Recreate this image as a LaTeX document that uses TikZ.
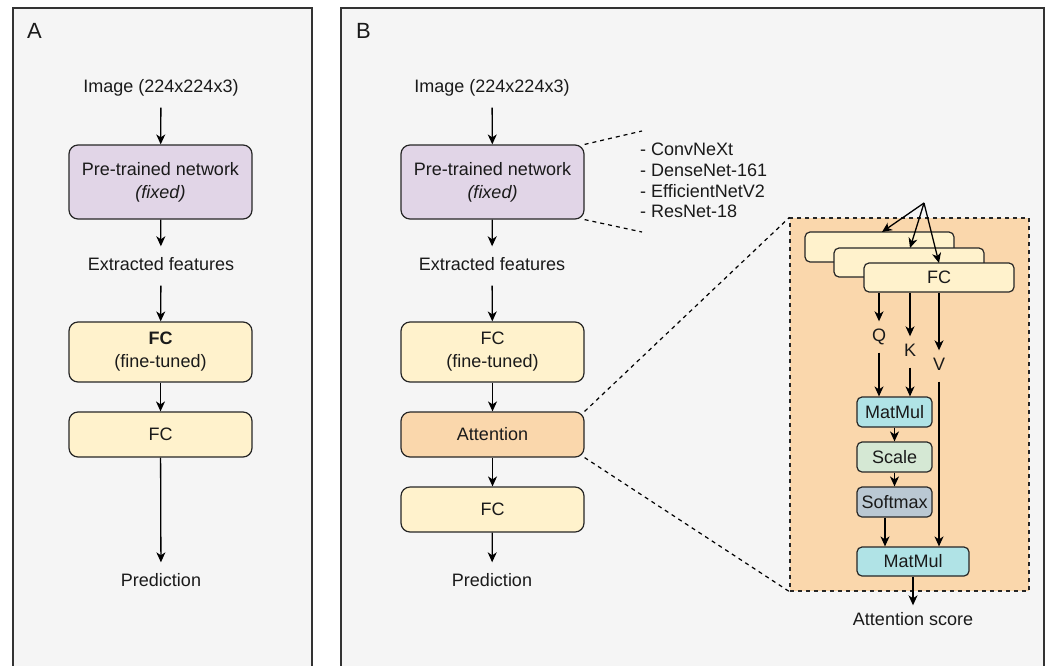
\documentclass[tikz,border=0pt]{standalone}
\usepackage{fontspec}
\setmainfont{Liberation Sans}
\usetikzlibrary{arrows.meta,calc}
\definecolor{panelbg}{HTML}{F5F5F5}
\definecolor{panelline}{HTML}{333333}
\definecolor{purplefill}{HTML}{E1D5E7}
\definecolor{yellowfill}{HTML}{FFF2CC}
\definecolor{orangefill}{HTML}{FAD7AC}
\definecolor{cyanfill}{HTML}{B0E3E6}
\definecolor{greenfill}{HTML}{D5E8D4}
\definecolor{greyfill}{HTML}{BAC8D3}
\definecolor{txt}{HTML}{1A1A1A}
\begin{document}
\begin{tikzpicture}[x=1pt,y=-1pt,
  every node/.style={text=txt},
  panel/.style={draw=panelline, line width=1.4pt, fill=panelbg},
  plabel/.style={font=\fontsize{22}{26}\selectfont, inner sep=0pt},
  lbl/.style={font=\fontsize{18}{22}\selectfont, inner xsep=0pt, inner ysep=11pt, text height=13pt, text depth=4pt},
  qkv/.style={font=\fontsize{18}{22}\selectfont, inner xsep=0pt, inner ysep=7pt, text height=13pt, text depth=4pt},
  bigbox/.style={draw=black!85, line width=1.2pt, rounded corners=9pt, minimum width=183pt, align=center, inner sep=0pt, font=\fontsize{18}{23}\selectfont},
  smallbox/.style={draw=black!85, line width=1.2pt, rounded corners=5pt, align=center, inner sep=0pt, font=\fontsize{18}{22}\selectfont},
  arr/.style={line width=1.3pt, -{Stealth[length=10pt,width=9pt,inset=3pt]}},
  dashline/.style={line width=1.2pt, dash pattern=on 4pt off 4pt}
]
\useasboundingbox (0,0) rectangle (1051,665);
\clip (0,0) rectangle (1051,665);
\fill[white] (0,0) rectangle (1051,665);

% panels
\draw[panel] (13,8) rectangle (312,690);
\draw[panel] (341,8) rectangle (1044,690);
\node[plabel] (labA) at (34.5,31) {A};
\node[plabel] (labB) at (363.5,31) {B};

% ---------- Panel A ----------
\node[lbl] (imgA) at (161,88) {Image (224x224x3)};
\node[bigbox, fill=purplefill, minimum height=74pt] (preA) at (160.5,182) {Pre-trained network\\\textit{(fixed)}};
\node[lbl] (featA) at (161,266) {Extracted features};
\node[bigbox, fill=yellowfill, minimum height=60pt] (fcftA) at (160.5,352) {\textbf{FC}\\(fine-tuned)};
\node[bigbox, fill=yellowfill, minimum height=45pt] (fcA) at (160.5,434.5) {FC};
\node[lbl] (predA) at (161,582) {Prediction};
\draw[arr] (imgA) -- (preA);
\draw[arr] (preA) -- (featA);
\draw[arr] (featA) -- (fcftA);
\draw[arr] (fcftA) -- (fcA);
\draw[arr] (fcA) -- (predA);

% ---------- Panel B ----------
\node[lbl] (imgB) at (492,88) {Image (224x224x3)};
\node[bigbox, fill=purplefill, minimum height=74pt] (preB) at (492.5,182) {Pre-trained network\\\textit{(fixed)}};
\node[lbl] (featB) at (492,266) {Extracted features};
\node[bigbox, fill=yellowfill, minimum height=60pt] (fcftB) at (492.5,352) {FC\\(fine-tuned)};
\node[bigbox, fill=orangefill, minimum height=45pt] (attB) at (492.5,434.5) {Attention};
\node[bigbox, fill=yellowfill, minimum height=45pt] (fcB) at (492.5,509.5) {FC};
\node[lbl] (predB) at (492,582) {Prediction};
\draw[arr] (imgB) -- (preB);
\draw[arr] (preB) -- (featB);
\draw[arr] (featB) -- (fcftB);
\draw[arr] (fcftB) -- (attB);
\draw[arr] (attB) -- (fcB);
\draw[arr] (fcB) -- (predB);

% backbone list
\node[font=\fontsize{18}{20.7}\selectfont, align=left, inner sep=0pt, anchor=north west] (list) at (640,143)
  {- ConvNeXt\\- DenseNet-161\\- EfficientNetV2\\- ResNet-18};
\coordinate (lt) at (642,131);
\coordinate (lb) at (642,232);
\draw[dashline] (preB.north east) -- (lt);
\draw[dashline] (preB.south east) -- (lb);

% attention detail box
\node[draw=black!85, dashline, fill=orangefill, minimum width=239pt, minimum height=373pt, inner sep=0pt] (attbox) at (909.5,404.5) {};
\draw[dashline] (attB.north east) -- (attbox.north west);
\draw[dashline] (attB.south east) -- (attbox.south west);

% stacked FC
\node[smallbox, fill=yellowfill, minimum width=149pt, minimum height=30pt] (fc1) at (879.5,247) {};
\node[smallbox, fill=yellowfill, minimum width=150pt, minimum height=29pt] (fc2) at (909,262.5) {};
\node[smallbox, fill=yellowfill, minimum width=150pt, minimum height=29pt] (fc3) at (939,277.5) {FC};
\coordinate (apex) at (924,203);
\coordinate (t1) at (882,232);
\coordinate (t2) at (910,248);
\coordinate (t3) at (939,263);
\draw[arr] (apex) -- (t1);
\draw[arr] (apex) -- (t2);
\draw[arr] (apex) -- (t3);

% Q K V
\node[qkv] (Q) at (879,337) {Q};
\node[qkv] (K) at (910,352) {K};
\node[qkv] (V) at (939,366) {V};

% ops
\node[smallbox, fill=cyanfill, minimum width=75pt, minimum height=30pt] (mm1) at (894.5,412) {MatMul};
\node[smallbox, fill=greenfill, minimum width=75pt, minimum height=30pt] (scale) at (894.5,457) {Scale};
\node[smallbox, fill=greyfill, minimum width=75pt, minimum height=30pt] (soft) at (894.5,502) {Softmax};
\node[smallbox, fill=cyanfill, minimum width=112pt, minimum height=29pt] (mm2) at (913,561.5) {MatMul};
\node[qkv] (score) at (913,621) {Attention score};

\draw[arr] (fc3.south -| Q) -- (Q);
\draw[arr] (fc3.south -| K) -- (K);
\draw[arr] (fc3.south -| V) -- (V);
\draw[arr] (Q) -- (mm1.north -| Q);
\draw[arr] (K) -- (mm1.north -| K);
\draw[arr] (V) -- (mm2.north -| V);
\draw[arr] (mm1) -- (scale);
\draw[arr] (scale) -- (soft);
\draw[arr] ([xshift=-9.5pt]soft.south) -- ([xshift=-9.5pt]soft.south |- mm2.north);
\draw[arr] (mm2) -- (score);
\end{tikzpicture}
\end{document}
